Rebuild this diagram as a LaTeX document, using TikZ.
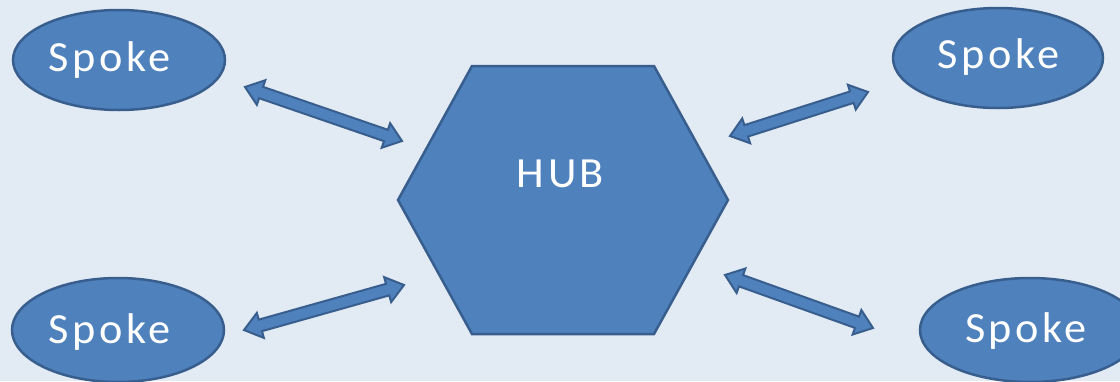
\documentclass[tikz,border=0pt]{standalone}
\usepackage{fontspec}
\newfontfamily\lblfont{Carlito}[LetterSpace=8]
\usetikzlibrary{calc,shapes.geometric}
\definecolor{bgc}{HTML}{E2EAF3}
\definecolor{fillc}{HTML}{4F81BD}
\definecolor{linec}{HTML}{385E8E}
\tikzset{
  spokeshape/.style={ellipse, draw=linec, fill=fillc, line width=2.5pt, inner sep=0pt},
  lbl/.style={text=white, font=\lblfont\fontsize{43}{50}\selectfont, inner sep=0pt, text height=28pt, text depth=0pt, anchor=center, xscale=1.03},
  hexshape/.style={draw=linec, fill=fillc, line width=2.5pt, line join=miter},
  twoarr/.style={draw=linec, fill=fillc, line width=2pt, line join=miter}
}
\newcommand\twoway[2]{%
  \draw[twoarr] (#1)
    -- ($(#1)!17pt!(#2)!13pt!90:(#2)$)
    -- ($(#1)!17pt!(#2)!6pt!90:(#2)$)
    -- ($(#2)!17pt!(#1)!6pt!-90:(#1)$)
    -- ($(#2)!17pt!(#1)!13pt!-90:(#1)$)
    -- (#2)
    -- ($(#2)!17pt!(#1)!13pt!90:(#1)$)
    -- ($(#2)!17pt!(#1)!6pt!90:(#1)$)
    -- ($(#1)!17pt!(#2)!6pt!-90:(#2)$)
    -- ($(#1)!17pt!(#2)!13pt!-90:(#2)$)
    -- cycle;}
\begin{document}
\begin{tikzpicture}[x=1pt,y=-1pt]
\useasboundingbox (0,0) rectangle (1120,381);
\fill[bgc] (0,0) rectangle (1120,381);
% hub
\coordinate (h1) at (398,200);
\coordinate (h2) at (472,66);
\coordinate (h3) at (654,66);
\coordinate (h4) at (728,200);
\coordinate (h5) at (654,334);
\coordinate (h6) at (472,334);
\draw[hexshape] (h1) -- (h2) -- (h3) -- (h4) -- (h5) -- (h6) -- cycle;
\node[lbl] (hub) at (560.5,173.5) {HUB};
% spokes
\node[spokeshape, minimum width=212pt, minimum height=100pt] (s1) at (119,60) {};
\node[lbl] (t1) at (109.5,57) {Spoke};
\node[spokeshape, minimum width=210pt, minimum height=100pt] (s2) at (998,58) {};
\node[lbl] (t2) at (998.5,54.5) {Spoke};
\node[spokeshape, minimum width=212pt, minimum height=104pt] (s3) at (118,330) {};
\node[lbl] (t3) at (109.5,329) {Spoke};
\node[spokeshape, minimum width=220pt, minimum height=104pt] (s4) at (1030,330) {};
\node[lbl] (t4) at (1026,328.5) {Spoke};
% arrows
\coordinate (a1) at (245,87);
\coordinate (b1) at (402,141);
\coordinate (a2) at (730,136);
\coordinate (b2) at (868,92);
\coordinate (a3) at (244,330);
\coordinate (b3) at (404,285);
\coordinate (a4) at (725,275);
\coordinate (b4) at (873,328);
\twoway{a1}{b1}
\twoway{a2}{b2}
\twoway{a3}{b3}
\twoway{a4}{b4}
\end{tikzpicture}
\end{document}
